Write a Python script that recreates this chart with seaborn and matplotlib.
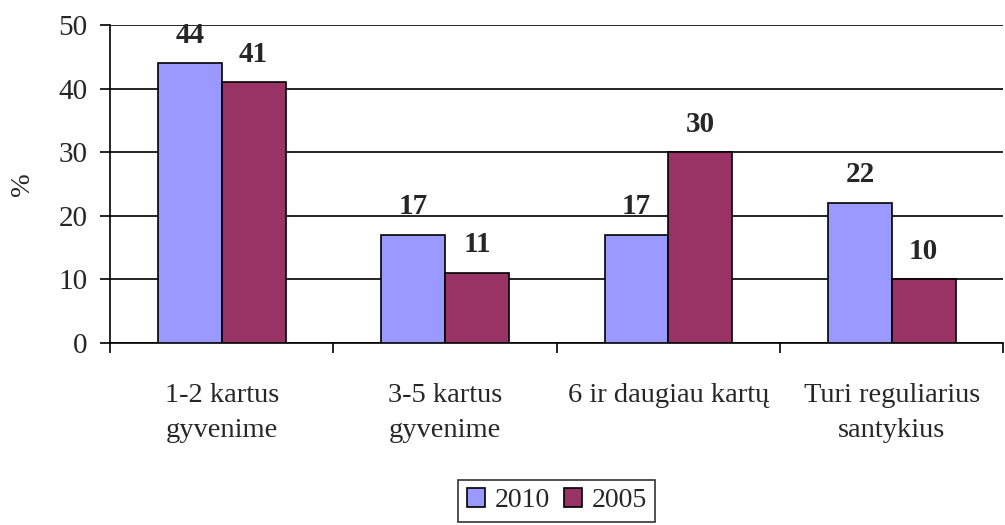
import matplotlib
matplotlib.use("Agg")
import matplotlib.pyplot as plt
import seaborn as sns
import pandas as pd
import numpy as np

categories = ["1-2 kartus\ngyvenime", "3-5 kartus\ngyvenime", "6 ir daugiau kartų", "Turi reguliarius\nsantykius"]
series_names = ["2010", "2005"]
values_2010 = [44, 17, 17, 22]
values_2005 = [41, 11, 30, 10]
colors = ["#9999FF", "#993366"]

df = pd.DataFrame({
    "cat": categories * 2,
    "year": [series_names[0]] * 4 + [series_names[1]] * 4,
    "val": values_2010 + values_2005,
})

sns.set_style("white")
plt.rcParams['font.family'] = ['Liberation Serif', 'DejaVu Serif']
FS_TICK = 21
FS_CAT = 20.5

fig = plt.figure(figsize=(10.05, 5.25), dpi=100)
ax = fig.add_axes([0.1095, 0.3467, 0.889, 0.6057])

sns.barplot(data=df, x="cat", y="val", hue="year", order=categories,
            hue_order=series_names, palette=colors, saturation=1,
            width=128/224, edgecolor="black", linewidth=1.2, ax=ax,
            legend=True, zorder=3)

ax.set_ylim(0, 50)
ax.set_xlim(-0.5, 3.5)
ax.set_yticks([0, 10, 20, 30, 40, 50])
ax.yaxis.grid(True, color="black", linewidth=1.2, zorder=0)
ax.set_axisbelow(True)
ax.tick_params(axis="y", direction="out", length=7.2, width=1.2, left=True,
               labelsize=FS_TICK, pad=9, color="black")
ax.set_xticks(range(4))
ax.set_xticklabels(categories, fontsize=FS_CAT, linespacing=1.52)
ax.tick_params(axis="x", length=0, pad=29)
ax.set_xticks(np.arange(-0.5, 4.0, 1.0), minor=True)
ax.tick_params(axis="x", which="minor", direction="out", length=7.2, width=1.2,
               bottom=True, color="black")
ax.set_xlabel("")
ax.set_ylabel("%", fontsize=FS_CAT, labelpad=17)

for s in ["top", "right"]:
    ax.spines[s].set_visible(False)
for s in ["left", "bottom"]:
    ax.spines[s].set_color("black")
    ax.spines[s].set_linewidth(1.2)

for cont in ax.containers:
    ax.bar_label(cont, fmt="%d", fontsize=FS_TICK, fontweight="bold", padding=10.5)

leg = ax.legend(loc="upper center", bbox_to_anchor=(0.5, -0.431), ncol=2,
                fontsize=20, frameon=True, fancybox=False, edgecolor="black",
                handlelength=0.65, handleheight=0.65, handletextpad=0.36,
                columnspacing=0.5, borderpad=0.3, borderaxespad=0)
leg.get_frame().set_linewidth(1.2)

fig.savefig("out.png", dpi=100)
